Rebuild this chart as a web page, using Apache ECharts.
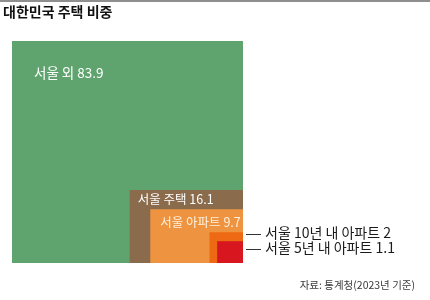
<!DOCTYPE html>
<html>
<head>
<meta charset="utf-8">
<script src="https://cdn.jsdelivr.net/npm/echarts@6/dist/echarts.min.js"></script>
<style>
html,body{margin:0;padding:0;background:#fff;}
#chart{width:430px;height:300px;}
</style>
</head>
<body>
<div id="chart"></div>
<script>
// Data
const categories = ['서울 외', '서울 주택', '서울 아파트', '서울 10년 내 아파트', '서울 5년 내 아파트'];
const values = [83.9, 16.1, 9.7, 2, 1.1];
const titleText = '대한민국 주택 비중';
const sourceText = '자료: 통계청(2023년 기준)';

// Nested areas: outer square is the whole (서울 외 + 서울 주택)
const areas = values.map((v, i) => i === 0 ? values[0] + values[1] : v);

// Styles (layout only)
const ASPECT = [1, 1.494, 1.66, 1.05, 1.14];
const COLORS = ['#5fa36f', '#8a6b4c', '#ee9440', '#ee6914', '#d7161f'];
const TEXT_COLORS = ['#ffffff', '#ffffff', '#fff0dd', '#1a1a1a', '#1a1a1a'];
const TEXT_OFF = [[22, 32], [8, 9.5], [10, 12.5], [0, 2], [0, 8]];
const FONT_SIZES = [13.5, 12.5, 12.5, 14, 14];
const FONT = '"Noto Sans CJK KR", "Noto Sans", sans-serif';

const chart = echarts.init(document.getElementById('chart'), null, {renderer: 'canvas'});

chart.setOption({
  animation: false,
  backgroundColor: '#fff',
  title: {
    text: titleText, left: 3, top: 5, padding: 0,
    textStyle: {fontFamily: FONT, fontSize: 14, fontWeight: 'bold', color: '#111'}
  },
  graphic: [
    {type: 'rect', left: 0, top: 0, shape: {width: 430, height: 2}, style: {fill: '#8f8f8f'}},
    {type: 'text', right: 15, top: 280,
      style: {text: sourceText, fontFamily: FONT, fontSize: 10.5, fill: '#3a3a3a'}}
  ],
  grid: {left: 12, top: 41, width: 231, height: 222},
  xAxis: {type: 'value', min: 0, max: 10, show: false},
  yAxis: {type: 'value', min: 0, max: 10, show: false},
  series: [{
    type: 'custom',
    coordinateSystem: 'cartesian2d',
    data: areas.map((a, i) => ({value: [a], name: categories[i]})),
    renderItem: function (params, api) {
      const i = params.dataIndex;
      const area = api.value(0);
      const asp = ASPECT[i];
      const w = Math.sqrt(area * asp);
      const h = Math.sqrt(area / asp);
      const p1 = api.coord([10 - w, h]);
      const p2 = api.coord([10, 0]);
      const rect = {
        type: 'rect',
        shape: {x: p1[0], y: p1[1], width: p2[0] - p1[0], height: p2[1] - p1[1]},
        style: {fill: COLORS[i]}
      };
      const label = categories[i] + ' ' + values[i];
      const children = [rect];
      if (i < 3) {
        children.push({
          type: 'text',
          style: {
            text: label, x: p1[0] + TEXT_OFF[i][0], y: p1[1] + TEXT_OFF[i][1],
            verticalAlign: 'middle', align: 'left',
            fontFamily: FONT, fontSize: FONT_SIZES[i], fill: TEXT_COLORS[i]
          }
        });
      } else {
        const ly = Math.round(p1[1] + TEXT_OFF[i][1]) + 0.5;
        children.push({
          type: 'line',
          shape: {x1: p2[0] + 3, y1: ly, x2: p2[0] + 18, y2: ly},
          style: {stroke: '#333', lineWidth: 1}
        });
        children.push({
          type: 'text',
          style: {
            text: label, x: p2[0] + 22, y: ly - 2,
            verticalAlign: 'middle', align: 'left',
            fontFamily: FONT, fontSize: FONT_SIZES[i], fill: TEXT_COLORS[i]
          }
        });
      }
      return {type: 'group', children: children};
    }
  }]
});
</script>
</body>
</html>
